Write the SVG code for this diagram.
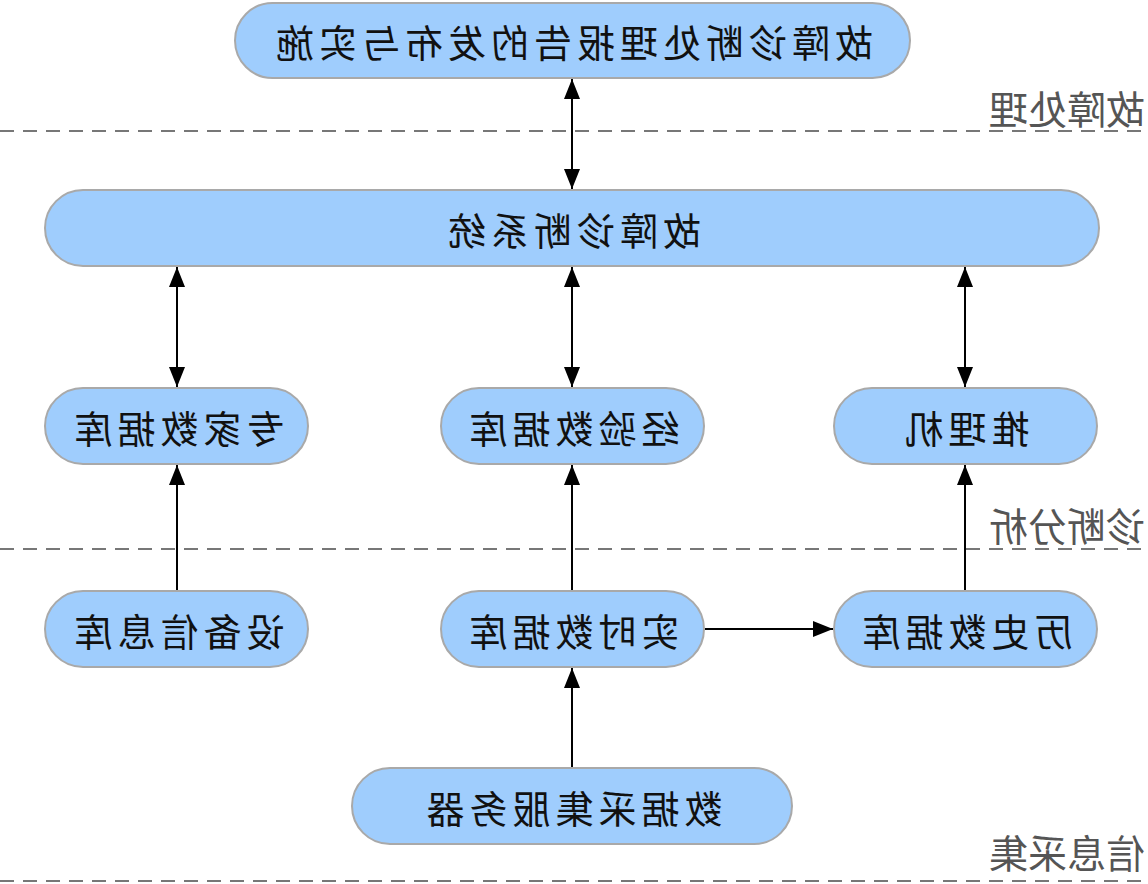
<svg xmlns="http://www.w3.org/2000/svg" width="1148" height="884" viewBox="0 0 1148 884">
<style>
.n{fill:#9fcdfd;stroke:#a9a9a9;stroke-width:2}
.t{font-family:"Noto Sans CJK SC","Noto Sans",sans-serif;font-size:38px;fill:#111;text-anchor:middle;letter-spacing:5px}
.s{font-family:"Noto Sans CJK SC","Noto Sans",sans-serif;font-size:39px;fill:#555;text-anchor:middle}
.d{stroke:#777;stroke-width:2;stroke-dasharray:14 9;fill:none}
.c{stroke:#000;stroke-width:2;fill:none}
</style>
<defs>
<marker id="b" viewBox="0 0 20 16" refX="20" refY="8" markerWidth="20" markerHeight="16" markerUnits="userSpaceOnUse" orient="auto-start-reverse"><path d="M0,0 L20,8 L0,16 z" fill="#000"/></marker>
</defs>
<rect width="1148" height="884" fill="#fff"/>
<g id="layers">
<line class="d" x1="0" y1="131" x2="1148" y2="131"/>
<line class="d" x1="0" y1="549" x2="1148" y2="549"/>
<line class="d" x1="0" y1="881" x2="1148" y2="881"/>
<text class="s" transform="translate(1067,0) scale(-1,1)" y="124">故障处理</text>
<text class="s" transform="translate(1067,0) scale(-1,1)" y="541">诊断分析</text>
<text class="s" transform="translate(1067,0) scale(-1,1)" y="868">信息采集</text>
</g>
<g id="connectors">
<line class="c" x1="572" y1="79" x2="572" y2="189" marker-start="url(#b)" marker-end="url(#b)"/>
<line class="c" x1="177" y1="267" x2="177" y2="387" marker-start="url(#b)" marker-end="url(#b)"/>
<line class="c" x1="572" y1="267" x2="572" y2="387" marker-start="url(#b)" marker-end="url(#b)"/>
<line class="c" x1="965" y1="267" x2="965" y2="387" marker-start="url(#b)" marker-end="url(#b)"/>
<line class="c" x1="177" y1="591" x2="177" y2="465" marker-end="url(#b)"/>
<line class="c" x1="572" y1="591" x2="572" y2="465" marker-end="url(#b)"/>
<line class="c" x1="965" y1="591" x2="965" y2="465" marker-end="url(#b)"/>
<line class="c" x1="572" y1="768" x2="572" y2="668" marker-end="url(#b)"/>
<line class="c" x1="705" y1="629" x2="833" y2="629" marker-end="url(#b)"/>
</g>
<g id="n_report"><rect class="n" x="235" y="3" width="675" height="75" rx="37.5"/><text class="t" transform="translate(572,0) scale(-1,1)" y="57">故障诊断处理报告的发布与实施</text></g>
<g id="n_system"><rect class="n" x="45" y="190" width="1054" height="76" rx="38"/><text class="t" transform="translate(572,0) scale(-1,1)" y="245">故障诊断系统</text></g>
<g id="n_expert"><rect class="n" x="45" y="388" width="263" height="76" rx="38"/><text class="t" transform="translate(177,0) scale(-1,1)" y="443">专家数据库</text></g>
<g id="n_exp"><rect class="n" x="441" y="388" width="263" height="76" rx="38"/><text class="t" transform="translate(572,0) scale(-1,1)" y="443">经验数据库</text></g>
<g id="n_infer"><rect class="n" x="834" y="388" width="263" height="76" rx="38"/><text class="t" transform="translate(965,0) scale(-1,1)" y="443">推理机</text></g>
<g id="n_device"><rect class="n" x="45" y="591" width="263" height="76" rx="38"/><text class="t" transform="translate(177,0) scale(-1,1)" y="646">设备信息库</text></g>
<g id="n_realtime"><rect class="n" x="441" y="591" width="263" height="76" rx="38"/><text class="t" transform="translate(572,0) scale(-1,1)" y="646">实时数据库</text></g>
<g id="n_history"><rect class="n" x="834" y="591" width="263" height="76" rx="38"/><text class="t" transform="translate(965,0) scale(-1,1)" y="646">历史数据库</text></g>
<g id="n_server"><rect class="n" x="352" y="768" width="440" height="76" rx="38"/><text class="t" transform="translate(572,0) scale(-1,1)" y="823">数据采集服务器</text></g>
</svg>
